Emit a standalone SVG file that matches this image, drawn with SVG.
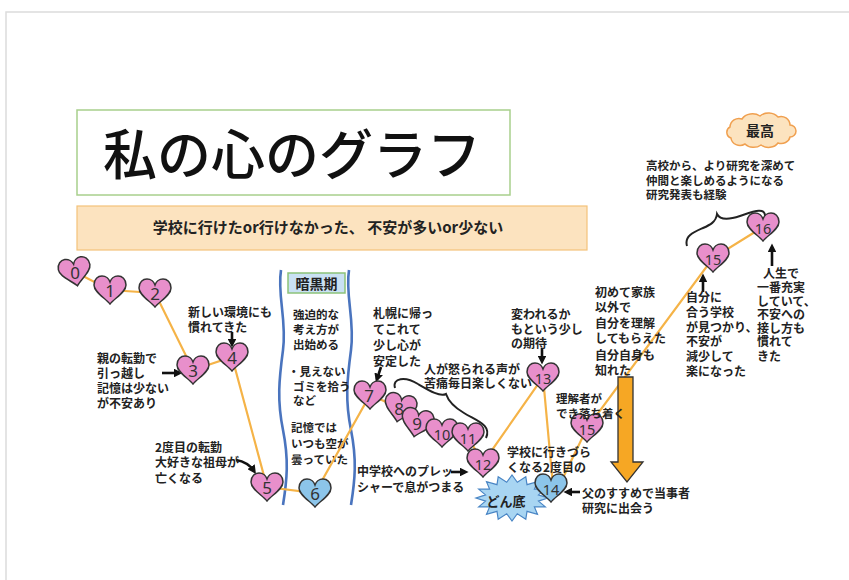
<svg xmlns="http://www.w3.org/2000/svg" xmlns:xlink="http://www.w3.org/1999/xlink" width="849" height="580" viewBox="0 0 849 580">
<style>
.t{font-family:"Noto Sans CJK JP","Noto Sans",sans-serif;font-size:12px;font-weight:700;fill:#222}
.s{font-size:11.5px}
.num{font-family:"Noto Sans","Liberation Sans",sans-serif;font-size:17px;fill:#333;text-anchor:middle}
.num2{font-size:14.5px}
.pink{fill:#E88FCB;stroke:#333;stroke-width:1.5}
.blue{fill:#8CC5EA;stroke:#333;stroke-width:1.5}
.path{fill:none;stroke:#F5B347;stroke-width:2.2}
.arr{fill:none;stroke:#111;stroke-width:2.6;marker-end:url(#ah)}
.wave{fill:none;stroke:#4A74BE;stroke-width:2.6}
.brace{fill:none;stroke:#222;stroke-width:2}
</style>
<defs>
<path id="heart" d="M0,14 C-5,8 -16,2 -16,-5 C-16,-11 -12,-14 -8,-14 C-4,-14 -1,-11 0,-8 C1,-11 4,-14 8,-14 C12,-14 16,-11 16,-5 C16,2 5,8 0,14Z"/>
<marker id="ah" viewBox="0 0 10 10" refX="6" refY="5" markerWidth="3.4" markerHeight="3.4" orient="auto" markerUnits="strokeWidth">
<path d="M0,0 L10,5 L0,10 Z" fill="#111"/>
</marker>
</defs>
<rect width="849" height="580" fill="#fff"/>
<path d="M6,580 V12 H849" fill="none" stroke="#DCDCDC" stroke-width="1.5"/>

<g id="title">
<rect x="77" y="110" width="433" height="85" fill="#fff" stroke="#A8CF8C" stroke-width="1.5"/>
<text x="292" y="175" font-family="Noto Sans CJK JP,sans-serif" font-size="54" font-weight="500" fill="#111" text-anchor="middle">私の心のグラフ</text>
</g>
<g id="subtitle">
<rect x="77" y="206" width="510" height="44" fill="#FCE3BF" stroke="#F3C27A" stroke-width="1.2"/>
<text class="t" x="328" y="233" text-anchor="middle" style="font-size:15px">学校に行けたor行けなかった、 不安が多いor少ない</text>
</g>
<g id="saikou">
<path d="M731,138 A6,6 0 0 1 730,127 A9,9 0 0 1 742,119 A12,10 0 0 1 760,116 A12,10 0 0 1 778,117 A9,9 0 0 1 790,125 A6,6 0 0 1 790,137 A9,8 0 0 1 778,143 A11,9 0 0 1 761,145 A11,9 0 0 1 745,144 A9,8 0 0 1 731,138 Z" fill="#FCE3BF" stroke="#F0A050" stroke-width="1.5"/>
<text class="t" x="760" y="136" text-anchor="middle" style="font-size:14px">最高</text>
</g>

<g id="dark-period">
<path class="wave" d="M281,270 C277,295 287,320 283,350 S277,400 283,430 S287,480 283,505"/>
<path class="wave" d="M349,270 C345,295 355,320 351,350 S345,400 351,430 S355,480 351,505"/>
<rect x="288" y="273" width="57" height="20" fill="#C9E1F3" stroke="#8CC27A" stroke-width="1.5"/>
<text class="t" x="316.5" y="289" text-anchor="middle" style="font-size:14px">暗黒期</text>
<text class="t s"><tspan x="293" y="319">強迫的な</tspan><tspan x="293" y="334">考え方が</tspan><tspan x="293" y="349">出始める</tspan><tspan x="288" y="376">・見えない</tspan><tspan x="293" y="391">ゴミを拾う</tspan><tspan x="293" y="405">など</tspan><tspan x="291" y="432">記憶では</tspan><tspan x="291" y="448">いつも空が</tspan><tspan x="291" y="464">曇っていた</tspan></text>
</g>

<g id="connectors">
<polyline class="path" points="75,272 110,290 155,293 193,370 232,357 267,487 315,493 370,395 400,408 417,423 442,433 468,437 483,463 543,377 553,486"/>
<polyline class="path" points="560,484 587,428 713,258 763,227"/>
<path class="arr" d="M232,332 V344"/>
<path class="arr" d="M162,373 H179"/>
<path class="arr" d="M236,460 Q248,462 254,471"/>
<path class="arr" d="M381,367 L377,379"/>
<path class="arr" d="M542,348 V361"/>
<path class="arr" d="M451,472 H465"/>
<path class="arr" d="M580,492 H567"/>
<path class="arr" d="M703,292 V277"/>
<path class="arr" d="M772,266 V247"/>
<path class="brace" d="M395,388 C392,378 405,376 418,384 C430,391 440,397 446,394 C448,400 452,406 464,413 C477,421 492,425 486,438"/>
<path class="brace" d="M687,246 C684,236 694,232 703,228 C710,225 716,222 717,214 C720,220 728,220 740,216 C752,212 766,206 765,217"/>
</g>

<g id="bigarrow">
<polygon points="618,377 633,377 633,462 643,462 627,482 611,462 618,462" fill="#F6A724" stroke="#333" stroke-width="1.3"/>
</g>

<g id="dondoko">
<polygon transform="translate(512,498)" points="36,0 26.5,3.1 33.3,8.8 22.4,8.9 25.5,16.3 15,13.3 13.8,21.3 5.3,15.7 0,23 -5.3,15.7 -13.8,21.3 -15,13.3 -25.5,16.3 -22.4,8.9 -33.3,8.8 -26.5,3.1 -36,0 -26.5,-3.1 -33.3,-8.8 -22.4,-8.9 -25.5,-16.3 -15,-13.3 -13.8,-21.3 -5.3,-15.7 0,-23 5.3,-15.7 13.8,-21.3 15,-13.3 25.5,-16.3 22.4,-8.9 33.3,-8.8 26.5,-3.1" fill="#A8D5F2" stroke="#4A86C5" stroke-width="1.2"/>
<text class="t" x="506" y="506" text-anchor="middle" style="font-size:13px">どん底</text>
</g>

<g id="n0"><use href="#heart" x="75" y="272" class="pink" transform="rotate(-10 75 272)"/><text class="num" x="75" y="279">0</text></g>
<g id="n1"><use href="#heart" x="110" y="290" class="pink"/><text class="num" x="110" y="297">1</text></g>
<g id="n2"><use href="#heart" x="155" y="293" class="pink"/><text class="num" x="155" y="300">2</text></g>
<g id="n3"><use href="#heart" x="193" y="370" class="pink"/><text class="num" x="193" y="377">3</text></g>
<g id="n4"><use href="#heart" x="232" y="357" class="pink"/><text class="num" x="232" y="364">4</text></g>
<g id="n5"><use href="#heart" x="267" y="487" class="pink"/><text class="num" x="267" y="494">5</text></g>
<g id="n6"><use href="#heart" x="315" y="493" class="blue"/><text class="num" x="315" y="500">6</text></g>
<g id="n7"><use href="#heart" x="370" y="395" class="pink"/><text class="num" x="369" y="402">7</text></g>
<g id="n8"><use href="#heart" x="400" y="408" class="pink" transform="rotate(12 400 408)"/><text class="num" x="399" y="415">8</text></g>
<g id="n9"><use href="#heart" x="417" y="423" class="pink" transform="rotate(12 417 423)"/><text class="num" x="417" y="430">9</text></g>
<g id="n10"><use href="#heart" x="442" y="433" class="pink"/><text class="num num2" x="442" y="440">10</text></g>
<g id="n11"><use href="#heart" x="468" y="437" class="pink"/><text class="num num2" x="468" y="444">11</text></g>
<g id="n12"><use href="#heart" x="483" y="463" class="pink"/><text class="num num2" x="483" y="470">12</text></g>
<g id="n13"><use href="#heart" x="543" y="377" class="pink"/><text class="num num2" x="543" y="384">13</text></g>
<g id="n14"><use href="#heart" x="551" y="488" class="blue"/><text class="num num2" x="551" y="495">14</text></g>
<g id="n15a"><use href="#heart" x="587" y="428" class="pink"/><text class="num num2" x="587" y="435">15</text></g>
<g id="n15b"><use href="#heart" x="713" y="258" class="pink"/><text class="num num2" x="713" y="265">15</text></g>
<g id="n16"><use href="#heart" x="763" y="227" class="pink"/><text class="num num2" x="763" y="234">16</text></g>

<g id="labels">
<text class="t"><tspan x="188" y="317">新しい環境にも</tspan><tspan x="188" y="332">慣れてきた</tspan></text>
<text class="t"><tspan x="97" y="363">親の転勤で</tspan><tspan x="97" y="378">引っ越し</tspan><tspan x="97" y="393">記憶は少ない</tspan><tspan x="97" y="408">が不安あり</tspan></text>
<text class="t"><tspan x="155" y="452">2度目の転勤</tspan><tspan x="155" y="467">大好きな祖母が</tspan><tspan x="155" y="483">亡くなる</tspan></text>
<text class="t"><tspan x="373" y="318">札幌に帰っ</tspan><tspan x="373" y="334">てこれて</tspan><tspan x="373" y="350">少し心が</tspan><tspan x="373" y="366">安定した</tspan></text>
<text class="t"><tspan x="424" y="374">人が怒られる声が</tspan><tspan x="424" y="388">苦痛毎日楽しくない</tspan></text>
<text class="t"><tspan x="511" y="319">変われるか</tspan><tspan x="511" y="334">もという少し</tspan><tspan x="511" y="348">の期待</tspan></text>
<text class="t"><tspan x="357" y="476">中学校へのプレッ</tspan><tspan x="357" y="492">シャーで息がつまる</tspan></text>
<text class="t"><tspan x="507" y="457">学校に行きづら</tspan><tspan x="507" y="472">くなる2度目の</tspan></text>
<text class="t s"><tspan x="556" y="403">理解者が</tspan><tspan x="556" y="418">でき落ち着く</tspan></text>
<text class="t"><tspan x="595" y="297">初めて家族</tspan><tspan x="595" y="312">以外で</tspan><tspan x="595" y="328">自分を理解</tspan><tspan x="595" y="343">してもらえた</tspan><tspan x="595" y="360">自分自身も</tspan><tspan x="595" y="375">知れた</tspan></text>
<text class="t"><tspan x="686" y="302">自分に</tspan><tspan x="686" y="317">合う学校</tspan><tspan x="686" y="332">が見つかり、</tspan><tspan x="686" y="346">不安が</tspan><tspan x="686" y="361">減少して</tspan><tspan x="686" y="376">楽になった</tspan></text>
<text class="t"><tspan x="763" y="278">人生で</tspan><tspan x="757" y="292">一番充実</tspan><tspan x="757" y="306">していて、</tspan><tspan x="757" y="319">不安への</tspan><tspan x="757" y="333">接し方も</tspan><tspan x="757" y="346">慣れて</tspan><tspan x="757" y="361">きた</tspan></text>
<text class="t s"><tspan x="646" y="170">高校から、より研究を深めて</tspan><tspan x="646" y="185">仲間と楽しめるようになる</tspan><tspan x="646" y="199">研究発表も経験</tspan></text>
<text class="t"><tspan x="582" y="498">父のすすめで当事者</tspan><tspan x="582" y="513">研究に出会う</tspan></text>
</g>
</svg>
